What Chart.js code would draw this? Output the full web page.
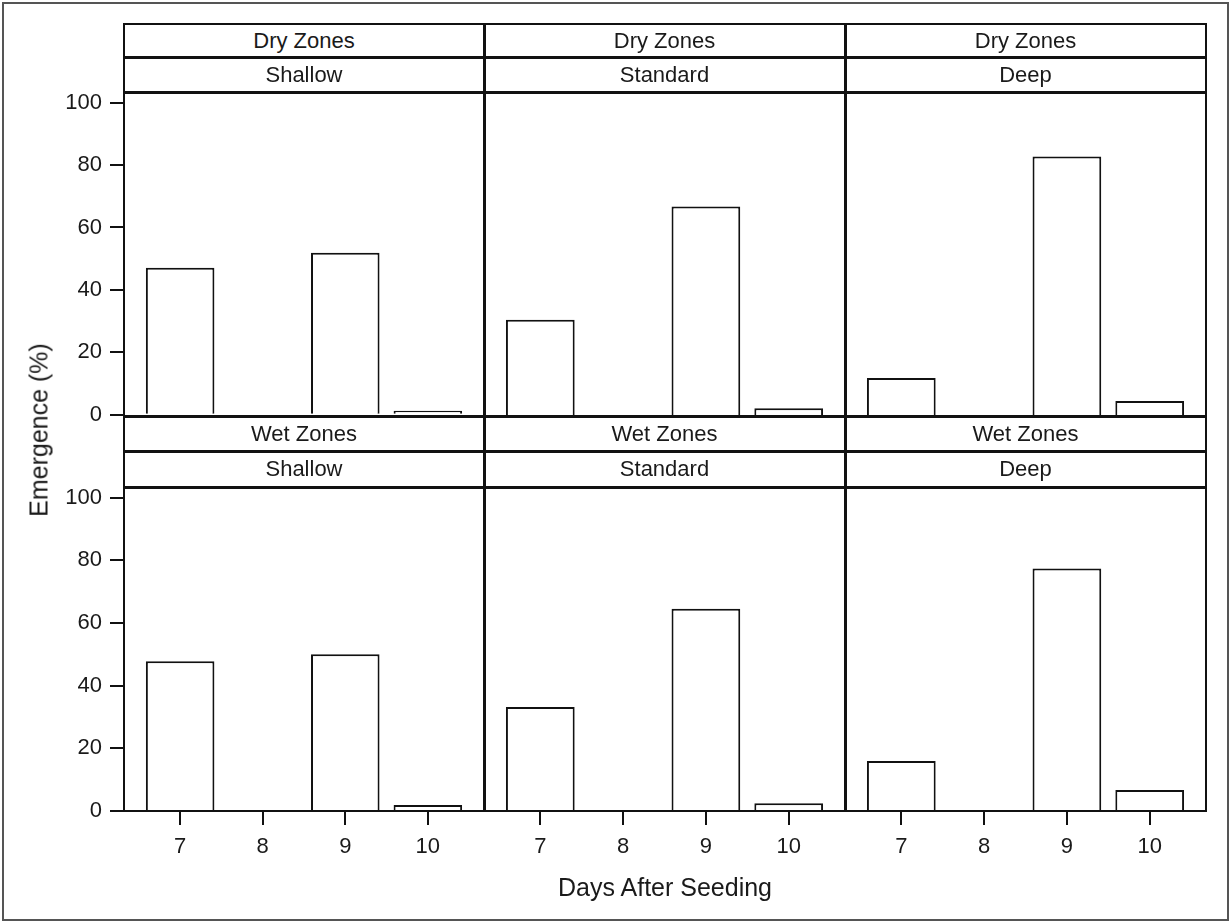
<!DOCTYPE html>
<html lang="en">
<head>
  <meta charset="UTF-8" />
  <title>Emergence by Days After Seeding</title>
  <script src="https://cdn.jsdelivr.net/npm/chart.js"></script>
  <style>
    * { margin: 0; padding: 0; box-sizing: border-box; }
    body { background: #fff; width: 1231px; height: 923px; overflow: hidden; }
    #stage { position: relative; width: 1231px; height: 923px; font-family: 'Liberation Sans', Arial, sans-serif; color: #1a1a1a; }
    .frame { position: absolute; left: 2px; top: 2px; width: 1227px; height: 919px; border: 2px solid #555; }
    canvas { position: absolute; }
    .line { position: absolute; background: #111; z-index: 5; }
    .head { position: absolute; z-index: 4; text-align: center; font-size: 22px; display: flex; align-items: center; justify-content: center; }
    .title { position: absolute; z-index: 4; font-size: 25px; white-space: nowrap; }
  </style>
</head>
<body>
  <div id="stage">
    <div class="frame"></div>
    <div class="title" id="ytitle">Emergence (%)</div>
    <div class="title" id="xtitle">Days After Seeding</div>
  </div>

  <script>
    // data
    const days = [7, 8, 9, 10];
    const yTicks = [0, 20, 40, 60, 80, 100];
    const zones = ['Dry Zones', 'Wet Zones'];
    const depths = ['Shallow', 'Standard', 'Deep'];

    const dryShallow  = [47.1, 0, 51.9, 1.3];
    const dryStandard = [30.6, 0, 66.6, 2.5];
    const dryDeep     = [12.1, 0, 82.5, 4.8];
    const wetShallow  = [47.8, 0, 50.0, 1.9];
    const wetStandard = [33.1, 0, 64.3, 2.5];
    const wetDeep     = [15.9, 0, 77.1, 6.7];

    const panelValues = [
      [dryShallow, dryStandard, dryDeep],
      [wetShallow, wetStandard, wetDeep]
    ];

    // layout (pixels)
    const colX = [124, 484, 845, 1206];
    const rows = [
      { top: 24, mid: 57.5, plot: 92, bottom: 416 },
      { top: 416, mid: 451, plot: 487, bottom: 811 }
    ];
    const M = 20, AXIS = 60;
    const stage = document.getElementById('stage');

    function line(x, y, w, h) {
      const d = document.createElement('div');
      d.className = 'line';
      Object.assign(d.style, { left: x + 'px', top: y + 'px', width: w + 'px', height: h + 'px' });
      stage.appendChild(d);
    }
    function head(text, x, y, w, h) {
      const d = document.createElement('div');
      d.className = 'head';
      d.textContent = text;
      Object.assign(d.style, { left: x + 'px', top: y + 'px', width: w + 'px', height: h + 'px' });
      stage.appendChild(d);
    }

    const tickFont = { family: "'Liberation Sans', Arial, sans-serif", size: 22 };

    rows.forEach((row, r) => {
      for (let c = 0; c < 3; c++) {
        const x0 = colX[c], x1 = colX[c + 1];
        head(zones[r], x0, row.top, x1 - x0, row.mid - row.top);
        head(depths[c], x0, row.mid, x1 - x0, row.plot - row.mid);

        const showY = c === 0, showX = r === 1;
        const left = x0 - M - (showY ? AXIS : 0);
        const width = (x1 - x0) + 2 * M + (showY ? AXIS : 0);
        const top = row.plot - M;
        const height = (row.bottom - row.plot) + 2 * M + (showX ? AXIS : 0);

        const cv = document.createElement('canvas');
        Object.assign(cv.style, { left: left + 'px', top: top + 'px', width: width + 'px', height: height + 'px' });
        cv.width = width; cv.height = height;
        stage.appendChild(cv);

        new Chart(cv, {
          type: 'bar',
          data: {
            datasets: [{
              data: days.map((d, i) => ({ x: d, y: panelValues[r][c][i] })),
              backgroundColor: '#fff',
              borderColor: '#111',
              borderWidth: 2,
              categoryPercentage: 1,
              barPercentage: 0.83
            }]
          },
          options: {
            responsive: false,
            animation: false,
            layout: { padding: M },
            plugins: { legend: { display: false }, tooltip: { enabled: false } },
            scales: {
              x: {
                type: 'linear',
                display: showX,
                offset: false,
                min: 6.32, max: 10.68,
                afterBuildTicks: s => { s.ticks = days.map(v => ({ value: v })); },
                afterFit: s => { s.height = showX ? AXIS : 0; },
                ticks: { font: tickFont, color: '#1a1a1a', padding: 9, callback: v => v },
                grid: { offset: false, drawOnChartArea: false, drawTicks: true, tickLength: 14, color: '#111', lineWidth: 2 },
                border: { display: false }
              },
              y: {
                display: showY,
                min: 0, max: 103,
                afterBuildTicks: s => { s.ticks = yTicks.map(v => ({ value: v })); },
                afterFit: s => { s.width = showY ? AXIS : 0; },
                ticks: { font: tickFont, color: '#1a1a1a', padding: 8, callback: v => v },
                grid: { drawOnChartArea: false, drawTicks: true, tickLength: 14, color: '#111', lineWidth: 2 },
                border: { display: false }
              }
            }
          }
        });
      }

      // header and plot separators
      line(colX[0], row.top - 1, colX[3] - colX[0], r === 0 ? 2 : 3);
      line(colX[0], row.mid - 1.5, colX[3] - colX[0], 3);
      line(colX[0], row.plot - 1.5, colX[3] - colX[0], 3);
    });

    // bottom edge and verticals
    line(colX[0], rows[1].bottom - 1, colX[3] - colX[0], 2);
    line(colX[0] - 1, rows[0].top - 1, 2, rows[1].bottom - rows[0].top + 2);
    line(colX[1] - 1.5, rows[0].top - 1, 3, rows[1].bottom - rows[0].top + 2);
    line(colX[2] - 1.5, rows[0].top - 1, 3, rows[1].bottom - rows[0].top + 2);
    line(colX[3] - 1, rows[0].top - 1, 2, rows[1].bottom - rows[0].top + 2);

    // axis titles
    const yt = document.getElementById('ytitle');
    yt.style.left = '39px'; yt.style.top = '430px';
    yt.style.transform = 'translate(-50%, -50%) rotate(-90deg)';
    const xt = document.getElementById('xtitle');
    xt.style.left = '665px'; xt.style.top = '887px';
    xt.style.transform = 'translate(-50%, -50%)';
  </script>
</body>
</html>
